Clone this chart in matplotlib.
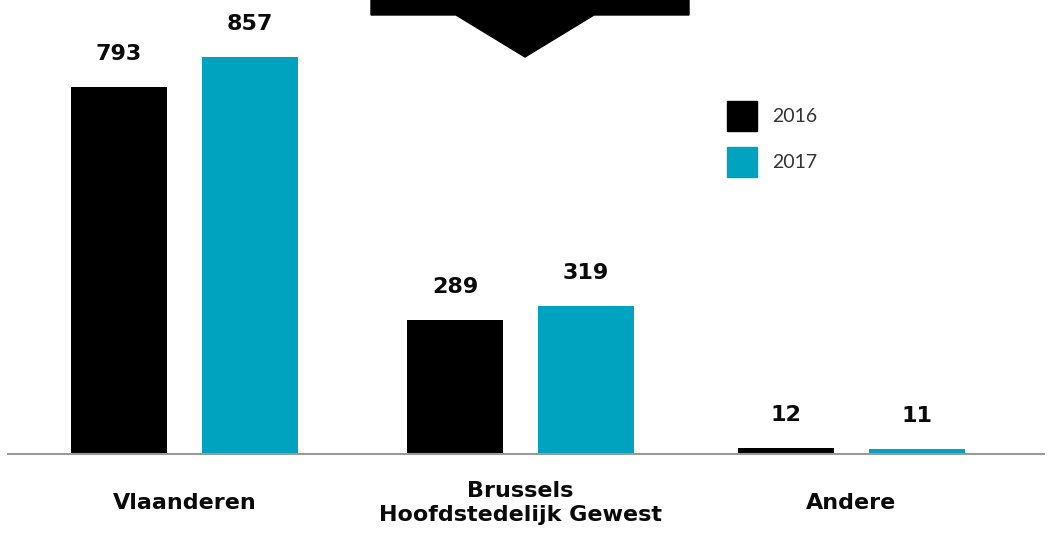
import matplotlib
matplotlib.use("Agg")
from matplotlib import pyplot as plt
from matplotlib.patches import Polygon, Rectangle

categories = ["Vlaanderen", "Brussels\nHoofdstedelijk Gewest", "Andere"]
years = ["2016", "2017"]
values_2016 = [793, 289, 12]
values_2017 = [857, 319, 11]

BLACK = "#000000"
TEAL = "#00A3BF"
W, H = 1052, 534
PX_PER_UNIT = 397 / 857  # bar scale in pixels
BASE = 80  # baseline in pixels from bottom

fig = plt.figure(figsize=(W / 100, H / 100), dpi=100)
ax = fig.add_axes([0, 0, 1, 1])
ax.set_xlim(0, W)
ax.set_ylim(-BASE / PX_PER_UNIT, (H - BASE) / PX_PER_UNIT)
ax.axis("off")

centers = [184.5, 520.5, 851]
gap = 131
bw = 96
lab_font = dict(fontsize=16, fontweight="bold", family="DejaVu Sans", color="#0a0a0a")

for i, cat in enumerate(categories):
    for j, (vals, col) in enumerate([(values_2016, BLACK), (values_2017, TEAL)]):
        x = centers[i] + (j - 0.5) * gap
        ax.bar(x, vals[i], width=bw, color=col)
        ax.annotate(str(vals[i]), (x, vals[i]), xytext=(0, 33), textcoords="offset pixels",
                    ha="center", va="center", **lab_font)
    ax.text(centers[i], -49 / PX_PER_UNIT, cat, ha="center", va="center",
            linespacing=1.3, **lab_font)

# baseline
ax.plot([7, 1045], [0, 0], color="#9a9a9a", lw=1.5, solid_capstyle="butt")

# legend
for k, (yr, col) in enumerate(zip(years, [BLACK, TEAL])):
    top = H - 101 - k * 46
    fig.patches.append(Rectangle((727 / W, (top - 30) / H), 30 / W, 30 / H,
                                 transform=fig.transFigure, color=col))
    fig.text(772 / W, (top - 16) / H, yr, ha="left", va="center",
             fontsize=14, family="Lato", color="#333333")

# banner with arrow at the top
fig.patches.append(Polygon([(371 / W, 1), (689 / W, 1), (689 / W, (H - 15) / H),
                            (594 / W, (H - 15) / H), (525 / W, (H - 57) / H),
                            (456 / W, (H - 15) / H), (371 / W, (H - 15) / H)],
                           closed=True, transform=fig.transFigure, color=BLACK))

fig.savefig("out.png", dpi=100)
